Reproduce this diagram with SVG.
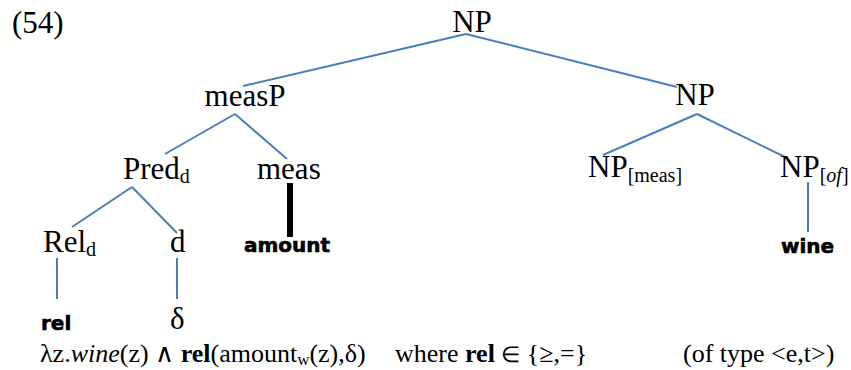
<svg xmlns="http://www.w3.org/2000/svg" width="851" height="370" viewBox="0 0 851 370">
<style>
.t{font-family:"Liberation Serif","Times New Roman",serif;font-size:31px;fill:#000}
.s{font-size:20px}
.b{font-family:"DejaVu Sans","Liberation Sans",sans-serif;font-weight:bold;font-size:20px;fill:#000;stroke:#000;stroke-width:0.6}
.f{font-family:"Liberation Serif","Times New Roman",serif;font-size:26px;fill:#000}
.e{stroke:#4a7ebb;stroke-width:2;fill:none}
</style>
<rect width="851" height="370" fill="#fff"/>
<text class="t" x="12" y="33">(54)</text>
<g id="connectors">
<line class="e" x1="466" y1="34" x2="243" y2="86"/>
<line class="e" x1="466" y1="34" x2="677" y2="87"/>
<line class="e" x1="235" y1="114" x2="165" y2="154"/>
<line class="e" x1="235" y1="114" x2="287" y2="159"/>
<line class="e" x1="132" y1="187" x2="72" y2="227"/>
<line class="e" x1="132" y1="187" x2="177" y2="233"/>
<line class="e" x1="57" y1="258" x2="57" y2="299"/>
<line class="e" x1="177" y1="258" x2="177" y2="299"/>
<line x1="290" y1="183" x2="290" y2="237" stroke="#000" stroke-width="6"/>
<line class="e" x1="697" y1="114" x2="603" y2="155"/>
<line class="e" x1="697" y1="114" x2="785" y2="157"/>
<line class="e" x1="808" y1="182" x2="808" y2="232"/>
</g>
<g id="np-top"><text class="t" x="472" y="32" text-anchor="middle">NP</text></g>
<g id="measP"><text class="t" x="245" y="106" text-anchor="middle">measP</text></g>
<g id="np-right"><text class="t" x="695" y="105" text-anchor="middle">NP</text></g>
<g id="pred"><text class="t" x="123" y="179">Pred<tspan class="s" dy="4">d</tspan></text></g>
<g id="meas"><text class="t" x="257" y="179">meas</text></g>
<g id="rel-d"><text class="t" x="43" y="252">Rel<tspan class="s" dy="4">d</tspan></text></g>
<g id="d"><text class="t" x="170" y="252">d</text></g>
<g id="rel"><text class="b" x="41" y="330">rel</text></g>
<g id="delta"><text class="t" x="170" y="329">δ</text></g>
<g id="amount"><text class="b" x="244" y="252">amount</text></g>
<g id="np-meas"><text class="t" x="588" y="177">NP<tspan class="s" dy="5">[meas]</tspan></text></g>
<g id="np-of"><text class="t" x="780" y="177">NP<tspan class="s" dy="5">[<tspan font-style="italic">of</tspan>]</tspan></text></g>
<g id="wine"><text class="b" x="781" y="253">wine</text></g>
<text class="f" x="40" y="362">λz.<tspan font-style="italic">wine</tspan>(z) ∧ <tspan font-weight="bold">rel</tspan>(amount<tspan font-size="17" dy="3">w</tspan><tspan dy="-3">(z),δ)</tspan></text>
<text class="f" x="395" y="362">where <tspan font-weight="bold">rel</tspan> <tspan font-size="22">∈</tspan> {≥,=}</text>
<text class="f" x="683" y="362" font-size="25">(of type &lt;e,t&gt;)</text>
</svg>
